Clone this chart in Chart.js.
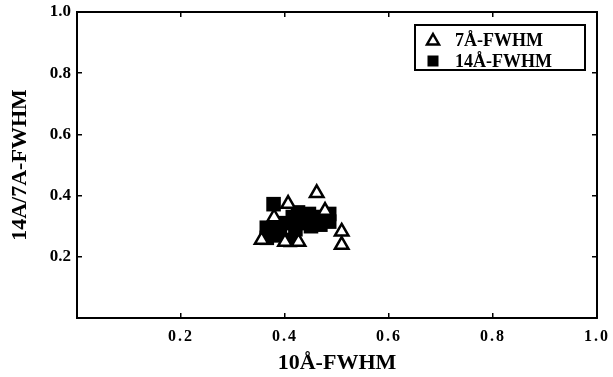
<!DOCTYPE html>
<html>
<head>
<meta charset="utf-8">
<script src="https://cdn.jsdelivr.net/npm/chart.js@4"></script>
<style>
  html, body { margin: 0; padding: 0; background: #fff; }
  #wrap { width: 613px; height: 377px; }
</style>
</head>
<body>
<div id="wrap"><canvas id="fwhm"></canvas></div>
<script>
// values
const sevenX = [0.406, 0.461, 0.379, 0.400, 0.426, 0.509, 0.509, 0.355, 0.477];
const sevenY = [0.373, 0.408, 0.329, 0.249, 0.249, 0.282, 0.239, 0.255, 0.350];
const fourteenX = [0.378, 0.365, 0.365, 0.390, 0.395, 0.415, 0.420, 0.410, 0.425, 0.446, 0.450, 0.465, 0.485, 0.485, 0.468, 0.435, 0.455, 0.390];
const fourteenY = [0.372, 0.295, 0.262, 0.270, 0.310, 0.330, 0.290, 0.255, 0.345, 0.340, 0.300, 0.330, 0.340, 0.315, 0.305, 0.310, 0.320, 0.290];
const tickValues = [0.2, 0.4, 0.6, 0.8, 1.0];
const seriesNames = ['7Å-FWHM', '14Å-FWHM'];

const serif = 'Liberation Serif';
const toPoints = (xs, ys) => xs.map((x, i) => ({x: x, y: ys[i]}));
const tickLabel = v => tickValues.some(t => Math.abs(t - v) < 1e-6) ? v.toFixed(1) : '';

// boxed legend drawn inside the plot, top right
const boxLegend = {
  id: 'boxLegend',
  afterDatasetsDraw(chart) {
    const ctx = chart.ctx;
    const a = chart.chartArea;
    const left = a.right - 182, top = a.top + 13, w = 170, h = 45;
    ctx.save();
    ctx.fillStyle = '#fff';
    ctx.fillRect(left, top, w, h);
    ctx.lineWidth = 2;
    ctx.strokeStyle = '#000';
    ctx.strokeRect(left, top, w, h);
    ctx.font = 'bold 18px "' + serif + '"';
    ctx.textBaseline = 'middle';
    ctx.fillStyle = '#000';
    const rows = [top + 15, top + 36];
    // triangle
    let cx = left + 18, cy = rows[0];
    ctx.beginPath();
    ctx.moveTo(cx, cy - 6);
    ctx.lineTo(cx + 6, cy + 4.5);
    ctx.lineTo(cx - 6, cy + 4.5);
    ctx.closePath();
    ctx.lineWidth = 2.5;
    ctx.stroke();
    // square
    cy = rows[1];
    ctx.fillRect(cx - 5.5, cy - 5.5, 11, 11);
    chart.data.datasets.forEach((ds, i) => {
      ctx.fillText(ds.label, left + 40, rows[i] + 1);
    });
    ctx.restore();
  }
};

// the x tick labels of the original are set with wide spacing
const spacedXLabels = {
  id: 'spacedXLabels',
  afterLayout(chart) {
    const sc = chart.scales.x;
    if (sc._spaced) return;
    const orig = sc.drawLabels;
    sc.drawLabels = function(area) {
      const ctx = this.ctx;
      ctx.save();
      ctx.letterSpacing = '2px';
      orig.call(this, area);
      ctx.restore();
    };
    sc._spaced = true;
  }
};

const tickGrid = { drawOnChartArea: false, drawTicks: true, tickLength: -5, color: '#000', lineWidth: 1.5 };
const axisBorder = { display: true, color: '#000', width: 2 };

const sideAxis = (pos, size) => ({
  type: 'linear',
  position: pos,
  min: 0,
  max: 1,
  ticks: { display: false, stepSize: 0.2 },
  grid: tickGrid,
  border: axisBorder,
  afterFit(scale) {
    if (pos === 'top') scale.height = size; else scale.width = size;
    scale.paddingLeft = scale.paddingRight = scale.paddingTop = scale.paddingBottom = 0;
  }
});

new Chart(document.getElementById('fwhm'), {
  type: 'scatter',
  data: {
    datasets: [{
      label: seriesNames[0],
      data: toPoints(sevenX, sevenY),
      pointStyle: 'triangle',
      pointRadius: 7.8,
      backgroundColor: '#fff',
      borderColor: '#000',
      borderWidth: 2.5
    }, {
      label: seriesNames[1],
      data: toPoints(fourteenX, fourteenY),
      pointStyle: 'rect',
      pointRadius: 10.3,
      backgroundColor: '#000',
      borderColor: '#000',
      borderWidth: 0
    }]
  },
  options: {
    responsive: true,
    maintainAspectRatio: false,
    animation: false,
    layout: { padding: 0 },
    plugins: {
      legend: { display: false },
      tooltip: { enabled: false }
    },
    scales: {
      x: {
        type: 'linear',
        position: 'bottom',
        min: 0,
        max: 1,
        ticks: {
          stepSize: 0.2,
          padding: 14,
          color: '#000',
          font: { family: serif, size: 16, weight: 'bold' },
          callback: tickLabel
        },
        grid: tickGrid,
        border: axisBorder,
        title: {
          display: true,
          text: '10Å-FWHM',
          color: '#000',
          font: { family: serif, size: 22, weight: 'bold' },
          padding: { top: 0, bottom: 0 }
        },
        afterFit(scale) {
          scale.height = 59;
          scale.paddingLeft = scale.paddingRight = 0;
        }
      },
      y: {
        type: 'linear',
        position: 'left',
        min: 0,
        max: 1,
        ticks: {
          stepSize: 0.2,
          padding: 11,
          color: '#000',
          font: { family: serif, size: 17, weight: 'bold' },
          callback: tickLabel
        },
        grid: tickGrid,
        border: axisBorder,
        title: {
          display: true,
          text: '14A/7A-FWHM',
          color: '#000',
          font: { family: serif, size: 22, weight: 'bold' },
          padding: { top: 7, bottom: 0 }
        },
        afterFit(scale) {
          scale.width = 77;
          scale.paddingTop = scale.paddingBottom = 0;
        }
      },
      x2: sideAxis('top', 12),
      y2: sideAxis('right', 16)
    }
  },
  plugins: [boxLegend, spacedXLabels]
});
</script>
</body>
</html>
